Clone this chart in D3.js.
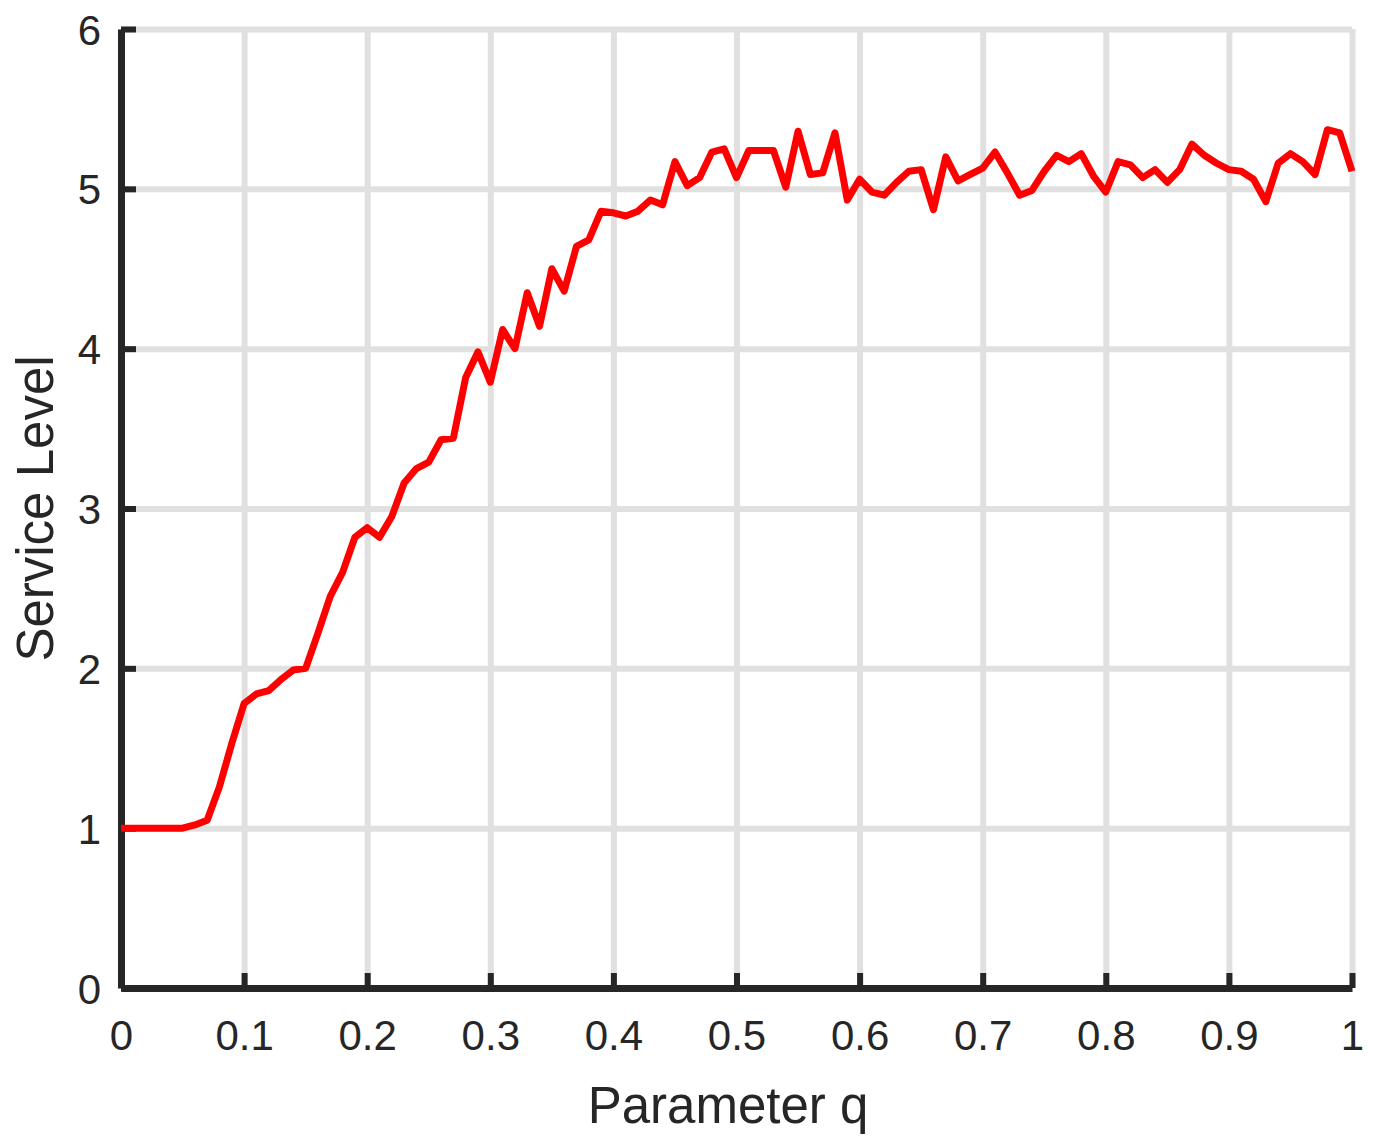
<!DOCTYPE html>
<html>
<head>
<meta charset="utf-8" />
<title>Service Level</title>
<style>
html, body {
    padding: 0px;
    margin: 0px;
    background: #fff;
}
svg text {
    font-family: Arial, "Liberation Sans", sans-serif;
    fill: #262626;
}
.grid line {
    stroke: #e0e0e0;
    stroke-width: 6;
}
.grid path {
    display: none;
}
.axis path, .axis line {
    stroke: #262626;
}
</style>
</head>
<body>
<svg id="chart" width="1377" height="1144"></svg>

<script src="https://d3js.org/d3.v7.min.js"></script>
<script>
!(function(){
    "use strict"

    // q = 0, 0.01, ... 1
    var qValues = d3.range(0, 101).map(function(i){ return i / 100 })

    var serviceLevel = [
        1.00, 1.00, 1.00, 1.00, 1.00, 1.00, 1.02, 1.05, 1.26, 1.53,
        1.78, 1.84, 1.86, 1.93, 1.99, 2.00, 2.22, 2.45, 2.60, 2.82,
        2.88, 2.82, 2.95, 3.16, 3.25, 3.29, 3.43, 3.44, 3.82, 3.98,
        3.79, 4.12, 4.00, 4.35, 4.14, 4.50, 4.36, 4.64, 4.68, 4.86,
        4.85, 4.83, 4.86, 4.93, 4.90, 5.17, 5.02, 5.07, 5.23, 5.25,
        5.07, 5.24, 5.24, 5.24, 5.01, 5.36, 5.09, 5.10, 5.35, 4.93,
        5.06, 4.98, 4.96, 5.04, 5.11, 5.12, 4.87, 5.20, 5.05, 5.09,
        5.13, 5.23, 5.10, 4.96, 4.99, 5.11, 5.21, 5.17, 5.22, 5.08,
        4.98, 5.17, 5.15, 5.07, 5.12, 5.04, 5.12, 5.28, 5.21, 5.16,
        5.12, 5.11, 5.06, 4.92, 5.16, 5.22, 5.17, 5.09, 5.37, 5.35,
        5.11
    ]

    var xTicks = [0, 0.1, 0.2, 0.3, 0.4, 0.5, 0.6, 0.7, 0.8, 0.9, 1]
    var yTicks = [0, 1, 2, 3, 4, 5, 6]

    var margin = {left: 121, top: 29, right: 25, bottom: 156}
    var width = 1377 - margin.left - margin.right
    var height = 1144 - margin.top - margin.bottom

    var svg = d3.select("#chart")
    var g = svg.append("g")
        .attr("transform", "translate(" + margin.left + "," + margin.top + ")")

    var x = d3.scaleLinear().domain([0, 1]).range([0, width])
    var y = d3.scaleLinear().domain([0, 6]).range([height, 0])

    // grid
    g.append("g")
        .attr("class", "grid")
        .attr("transform", "translate(0," + height + ")")
        .call(d3.axisBottom(x).tickValues(xTicks).tickSize(-height).tickFormat(""))
    g.append("g")
        .attr("class", "grid")
        .call(d3.axisLeft(y).tickValues(yTicks).tickSize(-width).tickFormat(""))

    // axes, ticks pointing in
    var xAxis = g.append("g")
        .attr("class", "axis")
        .attr("transform", "translate(0," + height + ")")
        .call(d3.axisBottom(x).tickValues(xTicks).tickSizeInner(-15).tickSizeOuter(0)
            .tickPadding(32).tickFormat(d3.format("")))
    var yAxis = g.append("g")
        .attr("class", "axis")
        .call(d3.axisLeft(y).tickValues(yTicks).tickSizeInner(-15).tickSizeOuter(0)
            .tickPadding(20).tickFormat(d3.format("d")))

    g.selectAll(".axis path").attr("stroke-width", 7)
    g.selectAll(".axis line").attr("stroke-width", 6)
    g.selectAll(".axis text").attr("font-size", 42).attr("fill", "#333")
    xAxis.selectAll("text").attr("dy", "0.71em")
    yAxis.selectAll("text").attr("dy", "0.36em")

    // line
    var line = d3.line()
        .x(function(d, i){ return x(qValues[i]) })
        .y(function(d){ return y(d) })

    g.append("path")
        .datum(serviceLevel)
        .attr("fill", "none")
        .attr("stroke", "#ff0000")
        .attr("stroke-width", 7)
        .attr("stroke-linejoin", "round")
        .attr("d", line)

    // labels
    g.append("text")
        .attr("x", 728 - margin.left)
        .attr("y", height + 135)
        .attr("text-anchor", "middle")
        .attr("font-size", 51)
        .attr("fill", "#333")
        .text("Parameter q")

    g.append("text")
        .attr("transform", "translate(" + (53 - margin.left) + "," + y(3) + ") rotate(-90)")
        .attr("text-anchor", "middle")
        .attr("font-size", 51)
        .attr("fill", "#333")
        .text("Service Level")

}());
</script>
</body>
</html>
